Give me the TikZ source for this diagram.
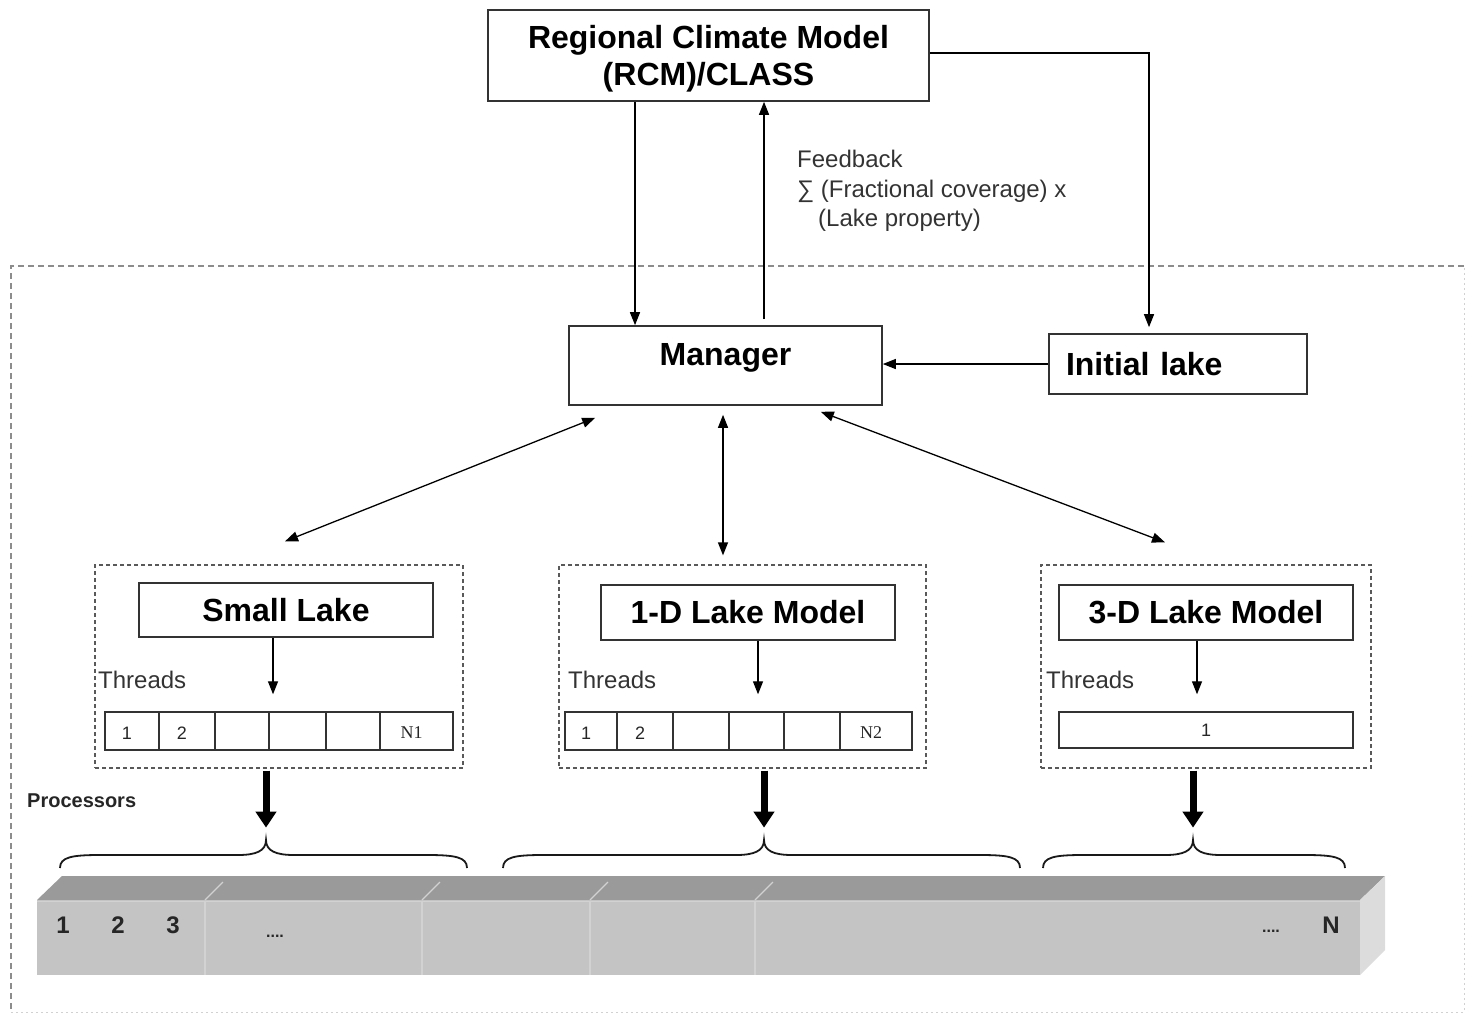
\documentclass[tikz,border=0pt]{standalone}
\usepackage{fontspec}
\setmainfont{Liberation Sans}
\newfontfamily\seriffont{Liberation Serif}
\usetikzlibrary{arrows.meta,calc}
\definecolor{bartop}{HTML}{9A9A9A}
\definecolor{barfront}{HTML}{C4C4C4}
\definecolor{barside}{HTML}{DCDCDC}
\definecolor{bardiv}{HTML}{D2D2D2}
\begin{document}
\begin{tikzpicture}[x=1pt,y=-1pt,
  box/.style={draw=black!80, line width=1.6pt, inner sep=0pt, fill=white},
  grp/.style={draw=black!65, line width=1.3pt, dash pattern=on 4pt off 3pt, inner sep=0pt},
  cell/.style={draw=black!80, line width=1.4pt, inner sep=0pt, minimum height=38pt},
  celltxt/.style={font=\fontsize{18}{18}\selectfont, text=black!85},
  arr/.style={line width=1.3pt, -{Triangle[length=13pt,width=10pt]}},
  darr/.style={line width=1.3pt, {Triangle[length=13pt,width=10pt]}-{Triangle[length=13pt,width=10pt]}},
  bigarr/.style={line width=7pt, -{Triangle[length=16pt,width=20pt]}},
  big/.style={font=\fontsize{32}{37}\selectfont\bfseries},
  lbl/.style={font=\fontsize{24}{29.5}\selectfont, text=black!80, inner sep=0pt},
  procnum/.style={font=\fontsize{24}{24}\selectfont\bfseries, text=black!85},
  bracestyle/.style={line width=1.8pt, black!90},
]
\useasboundingbox (0,0) rectangle (1466,1017);

% outer frame
\draw[black!45, line width=1.5pt, dash pattern=on 6pt off 4pt] (1464,266) -- (11,266) -- (11,1012);
\draw[black!18, line width=1pt, dash pattern=on 2pt off 3pt] (11,1012) -- (1464,1012) -- (1464,266);

% main boxes
\node[box, big, align=center, minimum width=441pt, minimum height=91pt] (rcm) at (708.5,55.5) {\rule{0pt}{30pt}Regional Climate Model\\(RCM)/CLASS};
\node[box, big, minimum width=313pt, minimum height=79pt, text height=23pt, text depth=23pt] (mgr) at (725.5,365.5) {Manager};
\node[box, big, minimum width=258pt, minimum height=60pt, text width=224pt, inner xsep=17pt, align=left] (init) at (1178,364) {Initial lake};

% feedback label
\node[lbl, anchor=north west, align=left] (fb) at (797,150) {Feedback\\∑ (Fractional coverage) x\\\hspace*{21pt}(Lake property)};

% top connectors
\draw[arr] ([xshift=-73.5pt]rcm.south) -- ([xshift=-73.5pt]rcm.south |- mgr.north);
\draw[arr] ([xshift=55.5pt,yshift=6pt]rcm.south |- mgr.north) -- ([xshift=55.5pt]rcm.south);
\draw[arr] ([yshift=2.5pt]rcm.east) -| ([xshift=-29pt,yshift=6pt]init.north);
\draw[arr] (init.west) -- (init.west -| mgr.east);

% group boxes
\node[grp, minimum width=368pt, minimum height=203pt] (gs) at (279,666.5) {};
\node[grp, minimum width=367pt, minimum height=203pt] (g1) at (742.5,666.5) {};
\node[grp, minimum width=330pt, minimum height=203pt] (g3) at (1206,666.5) {};

% inner model boxes
\node[box, big, minimum width=294pt, minimum height=54pt] (sl) at (286,610) {Small Lake};
\node[box, big, minimum width=294pt, minimum height=55pt] (ld) at (748,612.5) {1-D Lake Model};
\node[box, big, minimum width=294pt, minimum height=55pt] (td) at (1206,612.5) {3-D Lake Model};

% manager double arrows
\draw[darr] ($(mgr.south west)+(27,12)$) -- ($(gs.north)+(6,-23)$);
\draw[darr] ($(mgr.south)+(-2.5,9)$) -- ($(g1.north)+(-19.5,-9)$);
\draw[darr] ($(mgr.south east)+(-62,6)$) -- ($(g3.north)+(-41,-22)$);

% threads labels
\node[lbl, anchor=west] (th1) at (98,680) {Threads};
\node[lbl, anchor=west] (th2) at (568,680) {Threads};
\node[lbl, anchor=west] (th3) at (1046,680) {Threads};

% thread cells
\foreach \l/\r/\t [count=\i] in {105/159/1, 159/215/2, 215/269/{}, 269/326/{}, 326/380/{}, 380/453/{\seriffont N1}} {
  \node[cell, minimum width={(\r-\l)*1pt}] (sc\i) at ({(\l+\r)/2},731) {};
  \node[celltxt] at ({(\l+\r)/2-5},733) {\t};
}
\foreach \l/\r/\t [count=\i] in {565/617/1, 617/673/2, 673/729/{}, 729/784/{}, 784/840/{}, 840/912/{\seriffont N2}} {
  \node[cell, minimum width={(\r-\l)*1pt}] (dc\i) at ({(\l+\r)/2},731) {};
  \node[celltxt] at ({(\l+\r)/2-5},733) {\t};
}
\node[cell, celltxt, minimum width=294pt, minimum height=36pt] (tc1) at (1206,730) {1};

% model -> threads arrows
\draw[arr, shorten >=17pt] ([xshift=-13pt]sl.south) -- ([xshift=-13pt]sl.south |- sc1.north);
\draw[arr, shorten >=17pt] ([xshift=10pt]ld.south) -- ([xshift=10pt]ld.south |- dc1.north);
\draw[arr, shorten >=17pt] ([xshift=-9pt]td.south) -- ([xshift=-9pt]td.south |- tc1.north);

% processors label
\node[font=\fontsize{20}{20}\selectfont\bfseries, text=black!85, anchor=west, inner sep=0pt] (proc) at (27,801) {Processors};

% thick arrows
\draw[bigarr] ([xshift=-13pt,yshift=-2pt]gs.south) -- ++(0,57);
\draw[bigarr] ([xshift=21.5pt,yshift=-2pt]g1.south) -- ++(0,57);
\draw[bigarr] ([xshift=-13pt,yshift=-2pt]g3.south) -- ++(0,57);

% braces
\foreach \a/\m/\b in {60/266/467, 503/764/1020, 1043/1193/1345} {
  \draw[bracestyle] (\a,868) .. controls (\a,857) and (\a+12,855) .. (\a+40,855) -- (\m-28,855)
    .. controls (\m-10,855) and (\m,851) .. (\m,840)
    .. controls (\m,851) and (\m+10,855) .. (\m+28,855) -- (\b-40,855)
    .. controls (\b-12,855) and (\b,857) .. (\b,868);
}

% processor bar
\fill[bartop] (37,900) -- (62,876) -- (1385,876) -- (1360,900) -- cycle;
\fill[barfront] (37,900) rectangle (1360,975);
\fill[barside] (1360,900) -- (1385,876) -- (1385,950) -- (1360,975) -- cycle;
\draw[bardiv, line width=1.2pt] (37,901.5) -- (1360,901.5);
\foreach \x in {205,422,590,755} {
  \draw[bardiv, line width=1.5pt] (\x,901) -- (\x,975);
  \draw[bardiv, line width=1.2pt] (\x,900) -- (\x+18,882);
}
\node[procnum] (p1) at (63,925) {1};
\node[procnum] (p2) at (118,925) {2};
\node[procnum] (p3) at (173,925) {3};
\node[procnum, font=\fontsize{16}{16}\selectfont\bfseries] (pd1) at (275,936) {....};
\node[procnum, font=\fontsize{16}{16}\selectfont\bfseries] (pd2) at (1271,931) {....};
\node[procnum] (pn) at (1331,925) {N};
\end{tikzpicture}
\end{document}
